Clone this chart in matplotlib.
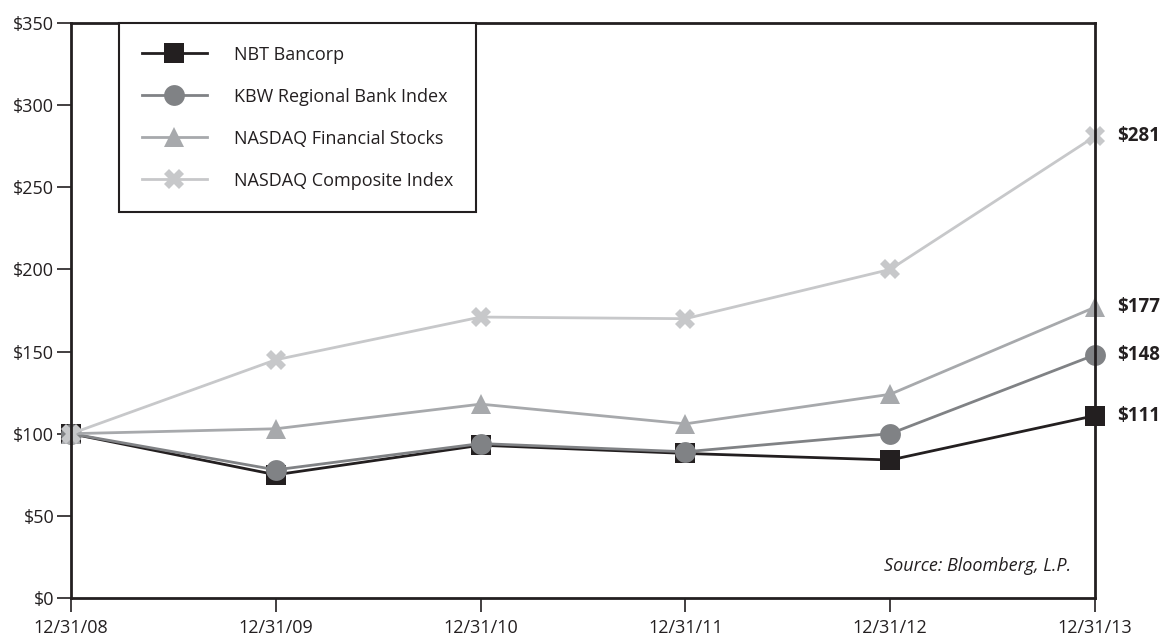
import matplotlib.pyplot as plt
from matplotlib.ticker import FuncFormatter

plt.rcParams['font.family'] = ['Open Sans', 'DejaVu Sans']

# データ
dates = ['12/31/08', '12/31/09', '12/31/10', '12/31/11', '12/31/12', '12/31/13']
nbt = [100, 75, 93, 88, 84, 111]
kbw = [100, 78, 94, 89, 100, 148]
nasdaq_fin = [100, 103, 118, 106, 124, 177]
nasdaq_comp = [100, 145, 171, 170, 200, 281]

series = [
    ('NBT Bancorp', nbt, '#231f20', 's', 14),
    ('KBW Regional Bank Index', kbw, '#808285', 'o', 15),
    ('NASDAQ Financial Stocks', nasdaq_fin, '#a7a9ac', '^', 15),
    ('NASDAQ Composite Index', nasdaq_comp, '#c7c8ca', 'X', 15),
]

fig = plt.figure(figsize=(11.68, 6.38), dpi=100)
ax = fig.add_axes([0.0608, 0.0627, 0.8767, 0.9013])

x = list(range(len(dates)))
for name, vals, color, mk, ms in series:
    ax.plot(x, vals, color=color, lw=2, marker=mk, markersize=ms,
            markeredgewidth=0, label=name, clip_on=False)
    ax.annotate(f'${vals[-1]}', (x[-1], vals[-1]), xytext=(16, 0),
                textcoords='offset points', va='center', ha='left',
                fontsize=13.5, fontweight='bold', color='#231f20')

ax.set_xlim(0, len(dates) - 1)
ax.set_ylim(0, 350)
ax.set_xticks(x)
ax.set_xticklabels(dates)
ax.set_yticks(range(0, 351, 50))
ax.yaxis.set_major_formatter(FuncFormatter(lambda v, p: f'${int(v)}'))
ax.tick_params(axis='both', direction='out', length=10, width=1.2,
               color='#231f20', labelsize=13, labelcolor='#231f20', pad=2)
ax.tick_params(axis='x', pad=5)
for sp in ax.spines.values():
    sp.set_linewidth(2)
    sp.set_color('#231f20')

leg = ax.legend(loc='upper left', bbox_to_anchor=(0.047, 1.0), fontsize=13,
                handlelength=3.6, handletextpad=1.5, borderpad=1.25,
                labelspacing=1.33, fancybox=False, framealpha=1,
                edgecolor='#231f20', borderaxespad=0)
leg.get_frame().set_linewidth(1.5)
for t in leg.get_texts():
    t.set_color('#231f20')

ax.text(0.977, 0.055, 'Source: Bloomberg, L.P.', transform=ax.transAxes,
        ha='right', va='center', fontsize=13, style='italic', color='#231f20')

fig.savefig('out.png', dpi=100)
